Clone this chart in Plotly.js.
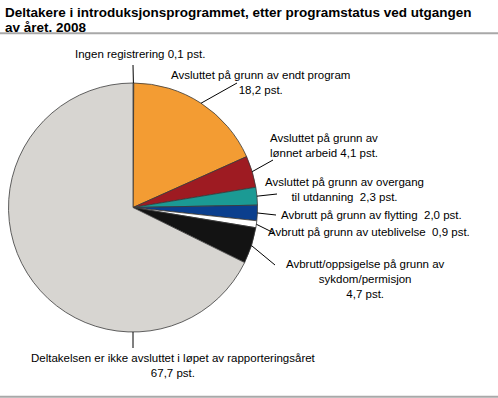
<!DOCTYPE html>
<html>
<head>
<meta charset="utf-8">
<script src="https://cdn.plot.ly/plotly-3.0.1.min.js"></script>
<style>html,body{margin:0;padding:0;background:#fff;}#chart{width:498px;height:398px;}</style>
</head>
<body>
<div id="chart"></div>
<script>
// ---- data ----
const categories = [
  "Ingen registrering",
  "Avsluttet på grunn av endt program",
  "Avsluttet på grunn av lønnet arbeid",
  "Avsluttet på grunn av overgang til utdanning",
  "Avbrutt på grunn av flytting",
  "Avbrutt på grunn av uteblivelse",
  "Avbrutt/oppsigelse på grunn av sykdom/permisjon",
  "Deltakelsen er ikke avsluttet i løpet av rapporteringsåret"
];
const values = [0.1, 18.2, 4.1, 2.3, 2.0, 0.9, 4.7, 67.7];
const labelTemplates = [
  "Ingen registrering {v} pst.",
  "Avsluttet på grunn av endt program<br>{v} pst.",
  "Avsluttet på grunn av<br>lønnet arbeid {v} pst.",
  "Avsluttet på grunn av overgang<br>til utdanning\u00a0 {v} pst.",
  "Avbrutt på grunn av flytting\u00a0 {v} pst.",
  "Avbrutt på grunn av uteblivelse\u00a0 {v} pst.",
  "Avbrutt/oppsigelse på grunn av<br>sykdom/permisjon<br>{v} pst.",
  "Deltakelsen er ikke avsluttet i løpet av rapporteringsåret<br>{v} pst."
];
const colors = ["#9a9a9a", "#F39C33", "#9E1B22", "#1B9A94", "#0B3F8E", "#FFFFFF", "#131313", "#D7D5D1"];
const titleLines = ["Deltakere i introduksjonsprogrammet, etter programstatus ved utgangen", "av året. 2008"];

// ---- layout (pixels) ----
const W = 498, H = 398;
const cx = 133, cy = 207.5, R = 124.5;
const px = x => x / W;
const py = y => 1 - y / H;
const titleY = [12, 27];
// text position, text anchor, leader end, optional fixed anchor angle
const labelPos = [
  {tx: 140, ty: 54,  xa: "center", lx: 133, ly: 65},
  {tx: 260, ty: 83,  xa: "center", lx: 237, ly: 83},
  {tx: 268, ty: 145, xa: "left",   lx: 273, ly: 160},
  {tx: 344, ty: 189.5, xa: "center", lx: 277, ly: 194},
  {tx: 279, ty: 215, xa: "left",   lx: 276, ly: 215},
  {tx: 266, ty: 232, xa: "left",   lx: 274, ly: 233},
  {tx: 365, ty: 279, xa: "center", lx: 275, ly: 265},
  {tx: 173, ty: 365, xa: "center", lx: 133, ly: 348, angle: 180}
];

const total = values.reduce((a, b) => a + b, 0);
const fmt = v => v.toFixed(1).replace(".", ",");

const annotations = titleLines.map((t, i) => ({
  xref: "paper", yref: "paper", x: px(3), y: py(titleY[i]), xanchor: "left", yanchor: "middle",
  align: "left", showarrow: false, text: "<b>" + t + "</b>",
  font: {family: "Liberation Sans, Arial, sans-serif", size: 13.5, color: "#000"}
}));
const shapes = [
  {type: "line", xref: "paper", yref: "paper", x0: 0, x1: 1, y0: py(33.3), y1: py(33.3),
   line: {color: "#A8A8A8", width: 2}},
  {type: "line", xref: "paper", yref: "paper", x0: 0, x1: 1, y0: py(396.7), y1: py(396.7),
   line: {color: "#A8A8A8", width: 2}}
];

let cum = 0;
values.forEach((v, i) => {
  const mid = (cum + v / 2) / total * 360;
  cum += v;
  const p = labelPos[i];
  const ang = (p.angle !== undefined ? p.angle : mid) * Math.PI / 180;
  const ex = cx + R * Math.sin(ang), ey = cy - R * Math.cos(ang);
  shapes.push({type: "line", xref: "paper", yref: "paper",
    x0: px(ex), y0: py(ey), x1: px(p.lx), y1: py(p.ly),
    line: {color: "#000", width: 1}});
  annotations.push({xref: "paper", yref: "paper", x: px(p.tx), y: py(p.ty),
    xanchor: p.xa, yanchor: "middle", align: p.xa === "left" ? "left" : "center",
    showarrow: false, text: labelTemplates[i].replace("{v}", fmt(v)),
    font: {family: "Liberation Sans, Arial, sans-serif", size: 11.5, color: "#000"}});
});

const trace = {
  type: "pie",
  labels: categories,
  values: values,
  sort: false,
  direction: "clockwise",
  rotation: 0,
  textinfo: "none",
  hoverinfo: "label+value",
  marker: {colors: colors, line: {color: "#3a3a3a", width: 0.8}},
  domain: {x: [px(cx - R), px(cx + R)], y: [py(cy + R), py(cy - R)]},
  showlegend: false
};

const layout = {
  width: W, height: H,
  margin: {l: 0, r: 0, t: 0, b: 0},
  paper_bgcolor: "#fff",
  showlegend: false,
  shapes: shapes,
  annotations: annotations
};

Plotly.newPlot("chart", [trace], layout, {displayModeBar: false, staticPlot: true});
</script>
</body>
</html>
